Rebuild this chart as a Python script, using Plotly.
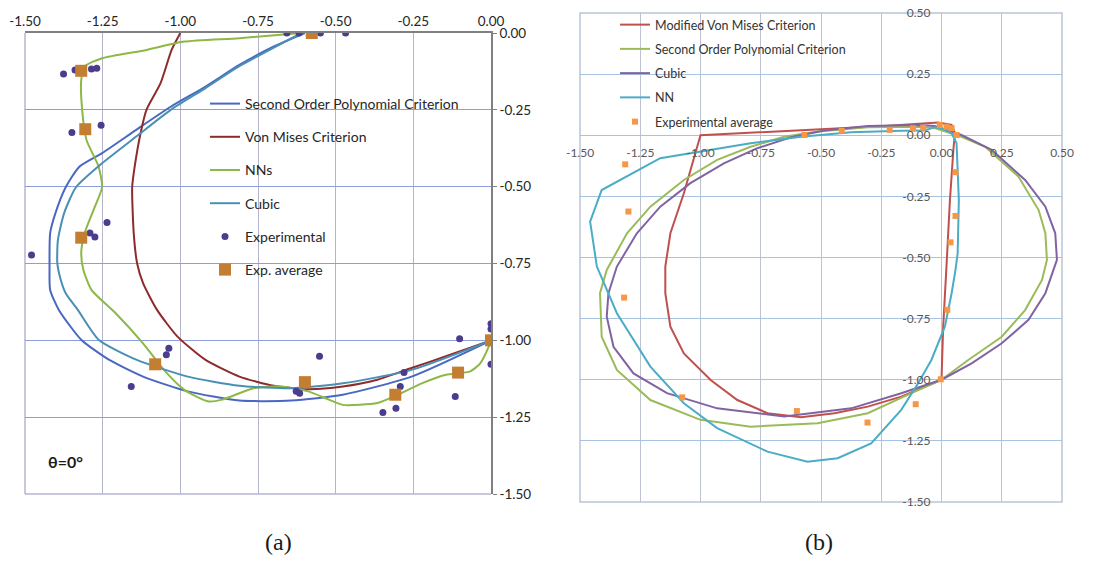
import plotly.graph_objects as go

# ---------------- panel (a): theta = 0 deg ----------------
a_poly2_x = [-0.599, -0.699, -0.810, -0.920, -1.031, -1.142, -1.252, -1.325, -1.369, -1.402,
             -1.419, -1.421, -1.419, -1.391, -1.319, -1.230, -1.120, -0.976, -0.810, -0.643,
             -0.477, -0.256, 0.0]
a_poly2_y = [0.0, -0.044, -0.104, -0.175, -0.240, -0.315, -0.391, -0.435, -0.502, -0.586,
             -0.651, -0.760, -0.836, -0.901, -0.998, -1.063, -1.118, -1.166, -1.196, -1.196,
             -1.177, -1.118, -1.0]

a_vm_x = [-1.000, -1.028, -1.064, -1.109, -1.128, -1.147, -1.155, -1.150, -1.139, -1.120,
          -1.075, -1.009, -0.920, -0.810, -0.699, -0.588, -0.477, -0.366, -0.256, -0.145, 0.0]
a_vm_y = [0.0, -0.055, -0.164, -0.250, -0.326, -0.435, -0.502, -0.651, -0.750, -0.814,
          -0.901, -0.988, -1.063, -1.118, -1.148, -1.159, -1.150, -1.128, -1.090, -1.052, -1.0]

a_nn_x = [-0.610, -0.810, -0.987, -1.109, -1.252, -1.308, -1.319, -1.316, -1.302, -1.263,
          -1.252, -1.275, -1.308, -1.319, -1.312, -1.286, -1.208, -1.120, -1.053, -0.987,
          -0.909, -0.865, -0.765, -0.677, -0.588, -0.522, -0.477, -0.366, -0.300, -0.223,
          -0.145, -0.067, -0.034, -0.007, 0.0]
a_nn_y = [0.0, -0.017, -0.028, -0.055, -0.082, -0.109, -0.153, -0.250, -0.348, -0.435,
          -0.502, -0.565, -0.651, -0.716, -0.771, -0.836, -0.912, -1.010, -1.096, -1.161,
          -1.199, -1.193, -1.156, -1.150, -1.166, -1.193, -1.210, -1.204, -1.177, -1.140,
          -1.112, -1.101, -1.074, -1.020, -1.0]

a_cubic_x = [-0.610, -0.810, -0.920, -1.031, -1.142, -1.252, -1.336, -1.374, -1.394, -1.396,
             -1.385, -1.369, -1.330, -1.263, -1.142, -0.976, -0.810, -0.643, -0.477, -0.256, 0.0]
a_cubic_y = [0.0, -0.108, -0.180, -0.250, -0.337, -0.424, -0.502, -0.586, -0.673, -0.749,
             -0.803, -0.847, -0.901, -0.998, -1.063, -1.118, -1.148, -1.156, -1.140, -1.096, -1.0]

a_exp_x = [-0.657, -0.618, -0.549, -0.468, -1.376, -1.339, -1.286, -1.269, -1.349, -1.255,
           -1.236, -1.291, -1.275, -1.479, -1.158, -1.045, -1.037, -0.627, -0.616, -0.552,
           -0.348, -0.306, -0.292, -0.280, -0.115, -0.101, 0.0, 0.0, 0.0]
a_exp_y = [0.0, 0.0, 0.0, 0.0, -0.133, -0.120, -0.117, -0.115, -0.324, -0.300,
           -0.617, -0.651, -0.664, -0.722, -1.150, -1.047, -1.026, -1.166, -1.172, -1.052,
           -1.235, -1.221, -1.150, -1.105, -1.183, -0.995, -0.946, -0.963, -1.078]

a_avg_x = [-0.577, -1.319, -1.306, -1.319, -1.081, -0.599, -0.308, -0.106, 0.0]
a_avg_y = [0.0, -0.123, -0.313, -0.666, -1.078, -1.136, -1.177, -1.105, -1.0]

a_ticks = [-1.5, -1.25, -1.0, -0.75, -0.5, -0.25, 0.0]

# ---------------- panel (b) ----------------
b_vm_x = [0.0, 0.007, 0.021, 0.035, 0.050, 0.056, 0.042, -0.014, -0.236, -0.514, -0.792, -1.0,
          -1.069, -1.125, -1.146, -1.146, -1.125, -1.069, -0.958, -0.847, -0.722, -0.583,
          -0.444, -0.306, -0.167, 0.0]
b_vm_y = [-1.0, -0.783, -0.530, -0.265, -0.050, 0.008, 0.042, 0.052, 0.038, 0.025, 0.011, 0.0,
          -0.237, -0.401, -0.537, -0.646, -0.783, -0.892, -1.001, -1.083, -1.137, -1.153,
          -1.137, -1.110, -1.069, -1.0]

b_poly2_x = [0.0, 0.111, 0.250, 0.347, 0.417, 0.4375, 0.431, 0.403, 0.319, 0.181, 0.083, -0.028,
             -0.097, -0.306, -0.514, -0.653, -0.792, -0.931, -1.069, -1.208, -1.305, -1.389,
             -1.417, -1.410, -1.347, -1.208, -1.0, -0.792, -0.514, -0.306, -0.125, 0.0]
b_poly2_y = [-1.0, -0.919, -0.824, -0.715, -0.592, -0.510, -0.401, -0.306, -0.169, -0.047, -0.006, 0.029,
             0.035, 0.033, 0.015, -0.006, -0.047, -0.101, -0.183, -0.292, -0.401, -0.551,
             -0.646, -0.824, -0.960, -1.083, -1.164, -1.192, -1.178, -1.137, -1.055, -1.0]

b_cubic_x = [0.0, 0.125, 0.250, 0.361, 0.431, 0.465, 0.479, 0.472, 0.431, 0.347, 0.208, 0.083,
             -0.028, -0.097, -0.306, -0.486, -0.625, -0.764, -0.903, -1.042, -1.167, -1.264,
             -1.347, -1.382, -1.389, -1.361, -1.278, -1.139, -0.931, -0.653, -0.375, -0.167, 0.0]
b_cubic_y = [-1.0, -0.933, -0.851, -0.755, -0.646, -0.551, -0.510, -0.401, -0.292, -0.183, -0.060, 0.001,
             0.038, 0.042, 0.038, 0.019, -0.008, -0.053, -0.115, -0.196, -0.292, -0.401,
             -0.537, -0.646, -0.742, -0.865, -0.974, -1.055, -1.117, -1.150, -1.117, -1.055, -1.0]

b_nn_x = [0.0, 0.042, 0.0625, 0.072, 0.067, 0.058, 0.042, 0.014, -0.042, -0.097, -0.167, -0.292,
          -0.431, -0.556, -0.722, -0.931, -1.069, -1.208, -1.347, -1.430, -1.458, -1.410,
          -1.167, -1.0, -0.792, -0.583, -0.375, -0.167, -0.069, -0.028, 0.0]
b_nn_y = [0.029, 0.008, -0.033, -0.265, -0.483, -0.551, -0.646, -0.783, -0.919, -1.014, -1.123, -1.260,
          -1.321, -1.335, -1.294, -1.198, -1.096, -0.946, -0.728, -0.537, -0.353, -0.224,
          -0.094, -0.067, -0.033, -0.006, 0.012, 0.018, 0.019, 0.033, 0.029]

b_avg_x = [-1.3125, -1.299, -0.569, -0.414, -0.215, -0.118, -0.076, -0.007, 0.021, 0.042, 0.0625,
           0.058, 0.058, 0.0375, -1.317, 0.024, -0.003, -1.076, -0.600, -0.307, -0.107]
b_avg_y = [-0.119, -0.312, 0.001, 0.018, 0.022, 0.029, 0.031, 0.042, 0.035, 0.029, 0.001,
           -0.151, -0.330, -0.438, -0.664, -0.714, -0.998, -1.072, -1.128, -1.175, -1.100]

b_xticks = [-1.5, -1.25, -1.0, -0.75, -0.5, -0.25, 0.0, 0.25, 0.5]
b_yticks = [-1.5, -1.25, -1.0, -0.75, -0.5, -0.25, 0.0, 0.25, 0.5]

# ---------------- layout geometry (pixels) ----------------
W, H = 1099, 563
A_LEFT, A_RIGHT, A_TOP, A_BOTTOM = 25, 491, 33, 494
B_LEFT, B_RIGHT, B_TOP, B_BOTTOM = 580, 1062, 13, 502
B_XRANGE = [-1.5, 0.5]
B_YRANGE = [-1.5, 0.5]

a_xdom = [A_LEFT / W, A_RIGHT / W]
a_ydom = [1 - A_BOTTOM / H, 1 - A_TOP / H]
b_xdom = [B_LEFT / W, B_RIGHT / W]
b_ydom = [1 - B_BOTTOM / H, 1 - B_TOP / H]

# axes of panel (b) cross at the origin
b_xaxis_pos = b_ydom[0] + (0 - B_YRANGE[0]) / (B_YRANGE[1] - B_YRANGE[0]) * (b_ydom[1] - b_ydom[0])
b_yaxis_pos = b_xdom[0] + (0 - B_XRANGE[0]) / (B_XRANGE[1] - B_XRANGE[0]) * (b_xdom[1] - b_xdom[0])

FONT = "Lato, 'Open Sans', sans-serif"

fig = go.Figure()

def line_a(x, y, name, color, group):
    fig.add_trace(go.Scatter(
        x=x, y=y, mode="lines", name=name, legendgroup=group, legend="legend",
        line=dict(color=color, width=2, shape="spline", smoothing=0.6),
        xaxis="x", yaxis="y"))

line_a(a_poly2_x, a_poly2_y, "Second Order Polynomial Criterion", "#4A68C2", "a1")
line_a(a_vm_x, a_vm_y, "Von Mises Criterion", "#8E2B2B", "a2")
line_a(a_nn_x, a_nn_y, "NNs", "#8DB845", "a3")
line_a(a_cubic_x, a_cubic_y, "Cubic", "#4A8FB4", "a4")
fig.add_trace(go.Scatter(
    x=a_exp_x, y=a_exp_y, mode="markers", name="Experimental", legendgroup="a5", legend="legend",
    marker=dict(color="#4B3C8E", size=7, symbol="circle"), xaxis="x", yaxis="y"))
fig.add_trace(go.Scatter(
    x=a_avg_x, y=a_avg_y, mode="markers", name="Exp. average", legendgroup="a6", legend="legend",
    marker=dict(color="#C47E32", size=12, symbol="square"), xaxis="x", yaxis="y"))

def line_b(x, y, name, color, group):
    fig.add_trace(go.Scatter(
        x=x, y=y, mode="lines", name=name, legendgroup=group, legend="legend2",
        line=dict(color=color, width=2), xaxis="x2", yaxis="y2"))

line_b(b_vm_x, b_vm_y, "Modified Von Mises Criterion", "#C0504D", "b1")
line_b(b_poly2_x, b_poly2_y, "Second Order Polynomial Criterion", "#9BBB59", "b2")
line_b(b_cubic_x, b_cubic_y, "Cubic", "#8064A2", "b3")
line_b(b_nn_x, b_nn_y, "NN", "#4BACC6", "b4")
fig.add_trace(go.Scatter(
    x=b_avg_x, y=b_avg_y, mode="markers", name="Experimental average", legendgroup="b5",
    legend="legend2", marker=dict(color="#F79646", size=6, symbol="square"),
    xaxis="x2", yaxis="y2"))

fig.update_layout(
    width=W, height=H, margin=dict(l=0, r=0, t=0, b=0, pad=0, autoexpand=False),
    paper_bgcolor="white", plot_bgcolor="white",
    font=dict(family=FONT, color="#262626"),
    xaxis=dict(domain=a_xdom, range=[-1.5, 0], side="top", anchor="y", automargin=False,
               tickvals=a_ticks, ticktext=[f"{v:.2f}" for v in a_ticks],
               tickfont=dict(size=13.5, color="#262626"),
               showgrid=True, gridcolor="#B4B4CC", gridwidth=1, zeroline=False,
               showline=True, linecolor="#808080", linewidth=1.5, ticks=""),
    yaxis=dict(domain=a_ydom, range=[-1.5, 0], side="right", anchor="x", automargin=False,
               tickvals=a_ticks, ticktext=[f"{v:.2f}" for v in a_ticks],
               tickfont=dict(size=13.5, color="#262626"),
               showgrid=True, gridcolor="#8E9EDA", gridwidth=1, zeroline=False,
               showline=True, linecolor="#808080", linewidth=1.5,
               ticks="outside", ticklen=4, tickcolor="#808080"),
    xaxis2=dict(domain=b_xdom, range=B_XRANGE, anchor="free", position=b_xaxis_pos,
                automargin=False,
                tickvals=b_xticks, ticktext=[f"{v:.2f}" for v in b_xticks],
                tickfont=dict(size=12, color="#595959"), ticklabelstandoff=9,
                showgrid=True, gridcolor="#BDC3D3", gridwidth=1, zeroline=False,
                showline=False, ticks=""),
    yaxis2=dict(domain=b_ydom, range=B_YRANGE, anchor="free", position=b_yaxis_pos,
                automargin=False,
                side="left", tickvals=b_yticks, ticktext=[f"{v:.2f}" for v in b_yticks],
                tickfont=dict(size=12, color="#595959"), ticklabelstandoff=11,
                showgrid=True, gridcolor="#A8C2E2", gridwidth=1, zeroline=False,
                showline=False, ticks=""),
    legend=dict(x=205 / W, y=1 - 88 / H, xanchor="left", yanchor="top",
                bgcolor="rgba(0,0,0,0)", font=dict(size=14, color="#262626"),
                tracegroupgap=12, itemwidth=30),
    legend2=dict(x=615 / W, y=1 - 10 / H, xanchor="left", yanchor="top",
                 bgcolor="rgba(0,0,0,0)", font=dict(size=12.5, color="#333333"),
                 tracegroupgap=5, itemwidth=30),
    shapes=[
        # light frame on the left and bottom of panel (a)
        dict(type="line", xref="x domain", yref="y domain", x0=0, x1=0, y0=0, y1=1,
             line=dict(color="#B4B4D2", width=1.5), layer="below"),
        dict(type="line", xref="x domain", yref="y domain", x0=0, x1=1, y0=0, y1=0,
             line=dict(color="#B4B4D2", width=1.5), layer="below"),
        # frame of panel (b)
        dict(type="rect", xref="x2 domain", yref="y2 domain", x0=0, x1=1, y0=0, y1=1,
             line=dict(color="#BAC3D6", width=1.5), layer="below"),
    ],
    annotations=[
        dict(text="<b>θ=0°</b>", xref="paper", yref="paper", x=65 / W, y=1 - 461 / H,
             xanchor="center", yanchor="middle",
             showarrow=False, font=dict(size=16, color="#1A1A1A")),
        dict(text="(a)", xref="paper", yref="paper", x=278 / W, y=1 - 542 / H,
             xanchor="center", yanchor="middle", showarrow=False,
             font=dict(family="'Liberation Serif', serif", size=24, color="#1A1A1A")),
        dict(text="(b)", xref="paper", yref="paper", x=819 / W, y=1 - 542 / H,
             xanchor="center", yanchor="middle", showarrow=False,
             font=dict(family="'Liberation Serif', serif", size=24, color="#1A1A1A")),
    ],
)

fig.write_html("out.html")
